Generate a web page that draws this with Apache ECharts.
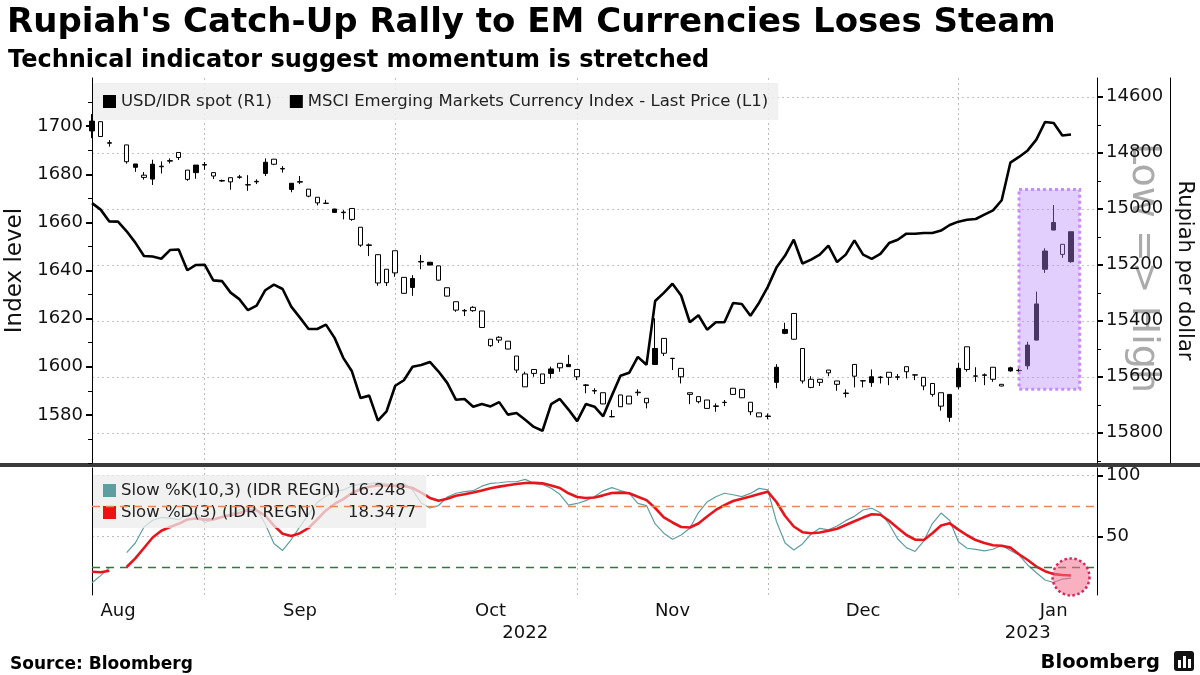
<!DOCTYPE html>
<html><head><meta charset="utf-8">
<script src="https://cdn.jsdelivr.net/npm/echarts@6/dist/echarts.min.js"></script>
<style>html,body{margin:0;padding:0;background:#fff}#c{width:1200px;height:675px}</style>
</head><body><div id="c"></div>
<script>
const dates = [
'2022-08-15','2022-08-16','2022-08-17','2022-08-18','2022-08-19','2022-08-22','2022-08-23','2022-08-24','2022-08-25','2022-08-26','2022-08-29','2022-08-30','2022-08-31',
'2022-09-01','2022-09-02','2022-09-05','2022-09-06','2022-09-07','2022-09-08','2022-09-09','2022-09-12','2022-09-13','2022-09-14','2022-09-15','2022-09-16','2022-09-19','2022-09-20','2022-09-21','2022-09-22','2022-09-23','2022-09-26','2022-09-27','2022-09-28','2022-09-29','2022-09-30',
'2022-10-03','2022-10-04','2022-10-05','2022-10-06','2022-10-07','2022-10-10','2022-10-11','2022-10-12','2022-10-13','2022-10-14','2022-10-17','2022-10-18','2022-10-19','2022-10-20','2022-10-21','2022-10-24','2022-10-25','2022-10-26','2022-10-27','2022-10-28','2022-10-31',
'2022-11-01','2022-11-02','2022-11-03','2022-11-04','2022-11-07','2022-11-08','2022-11-09','2022-11-10','2022-11-11','2022-11-14','2022-11-15','2022-11-16','2022-11-17','2022-11-18','2022-11-21','2022-11-22','2022-11-23','2022-11-24','2022-11-25','2022-11-28','2022-11-29','2022-11-30',
'2022-12-01','2022-12-02','2022-12-05','2022-12-06','2022-12-07','2022-12-08','2022-12-09','2022-12-12','2022-12-13','2022-12-14','2022-12-15','2022-12-16','2022-12-19','2022-12-20','2022-12-21','2022-12-22','2022-12-23','2022-12-26','2022-12-27','2022-12-28','2022-12-29','2022-12-30',
'2023-01-02','2023-01-03','2023-01-04','2023-01-05','2023-01-06','2023-01-09','2023-01-10','2023-01-11','2023-01-12','2023-01-13','2023-01-16','2023-01-17','2023-01-18','2023-01-19','2023-01-20','2023-01-23','2023-01-24'
];
// USD/IDR candles: [open, close, low, high]
const usdIdr = [
[14722,14687,14662,14748],[14689,14742,14689,14742],[14764,14766,14755,14778],null,[14772,14832,14772,14839],
[14852,14840,14840,14868],[14880,14888,14869,14896],[14894,14841,14825,14915],[14848,14850,14831,14874],[14828,14830,14820,14838],
[14799,14817,14799,14826],[14862,14895,14862,14900],[14871,14844,14844,14893],[14842,14844,14833,14861],[14871,14883,14871,14894],
[14899,14901,14896,14904],[14889,14904,14889,14932],[14886,14888,14879,14893],[14914,14915,14880,14936],[14902,14904,14895,14912],
[14874,14834,14820,14883],[14823,14841,14823,14844],[14856,14858,14848,14871],[14931,14909,14909,14941],[14903,14905,14883,14912],
[14930,14955,14930,14959],[14959,14979,14959,14988],[14980,14981,14968,14981],[15013,15001,15000,15014],[15012,15014,15005,15038],
[14999,15038,14999,15043],[15066,15130,15066,15136],[15129,15131,15124,15169],[15164,15265,15164,15275],[15216,15264,15216,15276],
[15150,15229,15150,15243],[15245,15302,15245,15303],[15281,15249,15237,15311],[15188,15190,15165,15216],[15201,15191,15190,15202],
[15204,15255,15204,15257],[15282,15312,15282,15313],[15332,15362,15332,15368],[15363,15365,15358,15383],[15352,15364,15348,15368],
[15365,15424,15365,15425],[15466,15489,15466,15493],[15459,15469,15455,15479],[15473,15501,15473,15502],[15526,15576,15526,15586],
[15590,15636,15582,15636],[15574,15588,15574,15600],[15590,15624,15590,15624],[15588,15572,15564,15606],[15552,15568,15552,15582],
[15564,15556,15522,15565],[15574,15600,15574,15612],[15629,15631,15626,15659],[15649,15651,15641,15662],[15657,15697,15657,15698],
[15742,15743,15719,15745],[15665,15707,15665,15708],[15669,15697,15669,15698],[15655,15657,15645,15668],[15677,15693,15677,15713],
[15556,15499,15391,15557],[15463,15516,15463,15526],[15534,15535,15533,15576],[15570,15600,15570,15624],[15657,15663,15657,15698],
[15671,15689,15671,15695],[15683,15713,15683,15714],[15704,15706,15695,15725],[15691,15692,15683,15705],[15641,15663,15641,15664],
[15645,15675,15645,15676],[15691,15725,15691,15737],[15729,15743,15729,15743],[15740,15742,15731,15752],[15620,15566,15555,15641],
[15445,15431,15407,15448],[15374,15466,15374,15467],[15499,15615,15499,15624],[15609,15638,15598,15641],[15609,15620,15609,15633],
[15576,15586,15576,15598],[15615,15627,15615,15650],[15658,15660,15645,15674],[15556,15598,15556,15638],[15614,15615,15613,15638],
[15621,15600,15574,15636],[15601,15603,15598,15624],[15584,15602,15584,15630],[15600,15602,15590,15612],[15564,15582,15564,15606],
[15593,15594,15592,15612],[15602,15633,15602,15648],[15624,15663,15624,15671],[15657,15705,15657,15721],[15745,15663,15663,15761],
[15636,15570,15550,15645],[15493,15574,15493,15582],[15597,15598,15566,15618],[15593,15595,15588,15630],[15566,15609,15566,15618],
[15627,15633,15627,15634],[15579,15568,15564,15582],[15577,15578,15570,15588],[15561,15487,15475,15574],[15469,15340,15296,15470],
[15216,15151,15141,15229],[15076,15049,14987,15077],[15127,15163,15127,15175],[15189,15082,15082,15193]
];
const msci = [
1668.0,1665.3,1660.4,1660.3,1656.3,1651.6,1646.0,1645.8,1644.9,1648.5,
1648.7,1640.1,1642.3,1642.4,1635.9,1635.6,1630.8,1628.1,1623.5,1625.4,
1631.8,1634.1,1632.3,1625.0,1620.4,1615.7,1615.7,1617.5,1612.0,1603.7,
1598.1,1587.0,1588.0,1577.6,1581.5,1592.1,1594.4,1600.0,1600.7,1602.0,
1598.0,1593.3,1586.3,1586.6,1583.4,1584.5,1583.5,1585.3,1580.1,1580.8,
1578.0,1575.0,1573.4,1584.5,1586.6,1582.2,1577.4,1584.5,1583.4,1579.4,
1588.0,1596.3,1597.5,1604.1,1600.8,1627.3,1630.7,1634.5,1629.6,1618.5,
1621.4,1615.4,1618.5,1618.5,1626.5,1626.1,1621.2,1626.6,1633.2,1641.2,
1646.2,1652.8,1642.9,1644.5,1646.6,1650.3,1643.5,1646.6,1652.5,1646.6,
1644.8,1646.9,1651.4,1652.8,1655.3,1655.3,1655.6,1655.6,1656.6,1658.9,
1660.3,1661.1,1661.4,1663.2,1665.0,1669.2,1684.8,1687.2,1689.9,1694.4,
1701.7,1701.3,1696.1,1696.5
];
const slowK = [
12.5,18.3,24.8,null,37.1,44.9,57.9,63.4,65.7,65.1,
63.9,68.5,68.9,61.6,63.6,66.5,68.7,71.8,74.2,72.6,
60.4,44.5,38.8,47.7,58.3,68.1,77.9,82.9,86.8,88.1,
91.3,93.0,93.0,94.2,93.0,92.1,93.4,88.1,77.5,73.4,
75.4,82.4,85.4,86.7,87.5,91.2,93.5,94.0,94.8,94.8,
96.7,93.5,92.6,89.5,84.6,75.8,77.1,79.4,82.8,87.4,
90.0,87.7,85.5,77.2,75.4,60.4,52.9,48.0,51.4,56.9,
69.7,78.3,82.6,85.4,84.2,82.7,85.3,89.4,88.1,62.4,
44.9,39.2,44.1,52.2,56.8,55.6,58.7,63.1,66.6,71.8,
73.2,69.5,60.4,48.1,41.1,38.0,46.5,60.7,69.3,63.2,
45.9,40.6,39.7,38.4,39.8,43.0,38.8,35.1,27.0,20.6,
14.7,12.7,15.5,16.248
];
const slowD = [
21.5,21.0,22.3,null,25.3,32.3,40.8,49.4,54.9,57.9,
60.5,64.0,64.9,63.9,64.1,66.1,67.5,69.3,71.8,71.4,
67.1,59.0,52.4,50.6,52.9,57.1,64.1,71.4,76.7,80.6,
85.6,88.7,90.7,91.7,91.7,91.3,91.3,89.7,86.0,81.6,
79.3,80.9,83.4,84.6,86.0,87.6,89.5,90.8,92.0,93.0,
93.8,93.9,93.5,91.7,89.7,85.4,82.4,81.6,82.0,83.7,
85.6,85.9,85.4,82.6,79.8,73.4,65.7,61.6,57.9,57.5,
60.8,66.5,71.8,75.8,79.1,81.0,82.8,84.8,86.7,78.3,
66.9,58.3,53.7,52.8,53.4,54.8,56.5,59.6,62.6,65.6,
68.3,67.9,63.0,57.1,51.4,47.6,47.3,52.8,59.1,60.9,
55.8,51.2,47.3,44.9,43.0,42.6,41.1,35.7,31.0,25.7,
21.9,19.5,18.8,18.3477
];
const seriesNames = ['USD/IDR spot (R1)', 'MSCI Emerging Markets Currency Index - Last Price (L1)', 'Slow %K(10,3) (IDR REGN)', 'Slow %D(3) (IDR REGN)'];
const lastValues = ['16.248', '18.3477'];
const monthStarts = ['2022-09-01','2022-10-03','2022-11-01','2022-12-01','2023-01-02'];
const monthLabelDates = ['2022-08-18','2022-09-16','2022-10-18','2022-11-16','2022-12-16','2023-01-17'];
const monthLabels = ['Aug','Sep','Oct','Nov','Dec','Jan'];
const yearLabelDates = ['2022-10-24','2023-01-12'];
const yearLabels = ['2022','2023'];
const leftTicks = [1580,1600,1620,1640,1660,1680,1700];
const leftMinor = [1560,1570,1590,1610,1630,1650,1670,1690,1710];
const rightTicks = [14600,14800,15000,15200,15400,15600,15800];
const rightMinor = [14700,14900,15100,15300,15500,15700,15900];
const stochTicks = [50,100];
const stochLevels = [75,25];
const highlightBox = {from: '2023-01-11', to: '2023-01-20', top: 14931, bottom: 15645};
const circleAt = {date: '2023-01-19', value: 17.2};

const FONT = 'DejaVu Sans';
const monthMap = {}; monthLabelDates.forEach((d,i)=>monthMap[d]=monthLabels[i]);
const yearMap = {}; yearLabelDates.forEach((d,i)=>yearMap[d]=yearLabels[i]);
const gridLine = {show:true, interval:(i,v)=>monthStarts.indexOf(v)>=0, lineStyle:{color:'#bdbdbd', type:[2,3], width:1}};
const axisTxt = {fontFamily:FONT, fontSize:18, color:'#111'};
const plain = (v)=>String(v);

const chart = echarts.init(document.getElementById('c'), null, {renderer:'canvas'});
chart.setOption({
  animation:false,
  backgroundColor:'#fff',
  textStyle:{fontFamily:FONT},
  title:[
    {text:"Rupiah's Catch-Up Rally to EM Currencies Loses Steam", left:2, top:1, textStyle:{fontFamily:FONT, fontSize:34, fontWeight:'bold', color:'#000'}},
    {text:'Technical indicator suggest momentum is stretched', left:3, top:44, textStyle:{fontFamily:FONT, fontSize:24, fontWeight:'bold', color:'#000'}},
    {text:'Source: Bloomberg', left:5, top:651, textStyle:{fontFamily:FONT, fontSize:17, fontWeight:'bold', color:'#000'}},
    {text:'Bloomberg', right:35, top:648, textStyle:{fontFamily:FONT, fontSize:19.5, fontWeight:'bold', color:'#000'}}
  ],
  grid:[
    {left:92, right:103, top:78, height:385, outerBoundsMode:'none', containLabel:false},
    {left:92, right:103, top:468, height:127, outerBoundsMode:'none', containLabel:false}
  ],
  legend:[
    {left:93, top:83, padding:[10,10,10,10], itemWidth:13, itemHeight:13, itemGap:18, selectedMode:false,
     backgroundColor:'rgba(238,238,238,0.85)',
     textStyle:{fontFamily:FONT, fontSize:16.5, color:'#222'},
     data:[{name:seriesNames[0], icon:'rect', itemStyle:{color:'#000', borderWidth:0}},
           {name:seriesNames[1], icon:'rect', itemStyle:{color:'#000', borderWidth:0}}]},
    {left:93, top:475, orient:'vertical', padding:[7,10,7,10], itemWidth:13, itemHeight:13, itemGap:5, selectedMode:false,
     backgroundColor:'rgba(236,236,236,0.75)',
     formatter:(name)=>'{n|'+name+'}{v|'+lastValues[name===seriesNames[2]?0:1]+'}',
     textStyle:{fontFamily:FONT, fontSize:16.5, color:'#222', rich:{n:{fontFamily:FONT, fontSize:16.5, color:'#222', width:227}, v:{fontFamily:FONT, fontSize:16.5, color:'#222'}}},
     data:[{name:seriesNames[2], icon:'rect', itemStyle:{color:'#5f9ea0', borderWidth:0}},
           {name:seriesNames[3], icon:'rect', itemStyle:{color:'#ee1111', borderWidth:0}}]}
  ],
  xAxis:[
    {gridIndex:0, type:'category', data:dates, boundaryGap:false, position:'bottom',
     axisLine:{show:false, onZero:false}, axisTick:{show:false}, axisLabel:{show:false}, splitLine:gridLine},
    {gridIndex:1, type:'category', data:dates, boundaryGap:false, position:'bottom',
     axisLine:{show:false, onZero:false}, axisTick:{show:false},
     axisLabel:Object.assign({interval:(i,v)=>monthMap[v]!==undefined, formatter:(v)=>monthMap[v]||'', margin:7}, axisTxt),
     splitLine:gridLine},
    {gridIndex:1, type:'category', data:dates, boundaryGap:false, position:'bottom',
     axisLine:{show:false, onZero:false}, axisTick:{show:false},
     axisLabel:Object.assign({interval:(i,v)=>yearMap[v]!==undefined, formatter:(v)=>yearMap[v]||'', margin:29}, axisTxt),
     splitLine:{show:false}}
  ],
  yAxis:[
    {gridIndex:0, type:'value', position:'left', min:1560, max:1720,
     axisLine:{show:true, lineStyle:{color:'#000', width:1}},
     axisTick:{show:true, customValues:leftTicks, length:6, lineStyle:{color:'#000', width:2}},
     axisLabel:Object.assign({customValues:leftTicks, margin:9, formatter:plain}, axisTxt),
     splitLine:{show:false},
     name:'Index level', nameLocation:'middle', nameRotate:90, nameGap:55,
     nameTextStyle:{fontFamily:FONT, fontSize:23, color:'#111'}},
    {gridIndex:0, type:'value', position:'right', inverse:true, min:14533, max:15908,
     axisLine:{show:true, lineStyle:{color:'#000', width:1}},
     axisTick:{show:true, customValues:rightTicks, length:6, lineStyle:{color:'#000', width:2}},
     axisLabel:Object.assign({customValues:rightTicks, margin:9, formatter:plain}, axisTxt),
     splitLine:{show:true, lineStyle:{color:'#c4c4c4', type:[2,3], width:1}},
     name:'Rupiah per dollar', nameLocation:'middle', nameRotate:-90, nameGap:76,
     nameTextStyle:{fontFamily:FONT, fontSize:21, color:'#111'}},
    {gridIndex:0, type:'value', position:'left', min:1560, max:1720,
     axisLine:{show:false}, axisTick:{show:true, customValues:leftMinor, length:4, lineStyle:{color:'#000'}},
     axisLabel:{show:false}, splitLine:{show:false}},
    {gridIndex:0, type:'value', position:'right', inverse:true, min:14533, max:15908,
     axisLine:{show:false}, axisTick:{show:true, customValues:rightMinor, length:4, lineStyle:{color:'#000'}},
     axisLabel:{show:false}, splitLine:{show:false}},
    {gridIndex:0, type:'value', position:'right', offset:73, min:0, max:1,
     axisLine:{show:true, lineStyle:{color:'#000', width:1}}, axisTick:{show:false}, axisLabel:{show:false}, splitLine:{show:false}},
    {gridIndex:1, type:'value', position:'left', min:2.5, max:106,
     axisLine:{show:true, lineStyle:{color:'#000', width:1}}, axisTick:{show:false}, axisLabel:{show:false}, splitLine:{show:false}},
    {gridIndex:1, type:'value', position:'right', min:2.5, max:106,
     axisLine:{show:true, lineStyle:{color:'#000', width:1}},
     axisTick:{show:true, customValues:stochTicks, length:6, lineStyle:{color:'#000', width:2}},
     axisLabel:Object.assign({customValues:stochTicks, margin:9, formatter:plain}, axisTxt),
     splitLine:{show:true, lineStyle:{color:'#bdbdbd', type:[2,3], width:1}}}
  ],
  series:[
    {type:'candlestick', name:seriesNames[0], xAxisIndex:0, yAxisIndex:1, barWidth:5, clip:false,
     data:usdIdr.map(d=>d?d:['-','-','-','-']),
     itemStyle:{color:'#ffffff', color0:'#000000', borderColor:'#000000', borderColor0:'#000000', borderWidth:1},
     markArea:{silent:true, z:10,
       itemStyle:{color:'rgba(185,135,250,0.40)', borderColor:'#c68cff', borderWidth:3, borderType:'dotted'},
       data:[[{xAxis:highlightBox.from, yAxis:highlightBox.top},{xAxis:highlightBox.to, yAxis:highlightBox.bottom}]]}},
    {type:'line', name:seriesNames[1], xAxisIndex:0, yAxisIndex:0, data:msci, symbol:'none', connectNulls:true,
     lineStyle:{color:'#000', width:2.6}, itemStyle:{color:'#000'}},
    {type:'line', name:seriesNames[2], xAxisIndex:1, yAxisIndex:6, data:slowK, symbol:'none',
     lineStyle:{color:'#5f9ea0', width:1.2}, itemStyle:{color:'#5f9ea0'}},
    {type:'line', name:seriesNames[3], xAxisIndex:1, yAxisIndex:6, data:slowD, symbol:'none',
     lineStyle:{color:'#e8141c', width:2.6}, itemStyle:{color:'#e8141c'},
     markLine:{silent:true, symbol:'none', label:{show:false},
       data:[{yAxis:stochLevels[0], lineStyle:{color:'#e8875c', type:[8,6], width:1.3}},
             {yAxis:stochLevels[1], lineStyle:{color:'#2c7a3f', type:[8,6], width:1.3}}]},
     markPoint:{silent:true, symbol:'circle', symbolSize:37, label:{show:false},
       itemStyle:{color:'rgba(244,112,140,0.55)', borderColor:'#d8255c', borderWidth:2.5, borderType:'dotted'},
       data:[{coord:[circleAt.date, circleAt.value]}]}}
  ],
  graphic:[
    {type:'rect', left:0, top:463, shape:{width:1200, height:4}, style:{fill:'#3a3a3a'}, silent:true},
    {type:'text', x:1143, y:268, rotation:-Math.PI/2, silent:true,
     style:{text:'Low => High', fill:'#ababab', font:'38px "DejaVu Sans"', align:'center', verticalAlign:'middle'}},
    {type:'group', left:1174, top:651, silent:true, children:[
      {type:'rect', shape:{x:0, y:0, width:20, height:20, r:3}, style:{fill:'#111'}},
      {type:'rect', shape:{x:4, y:9, width:3, height:8}, style:{fill:'#fff'}},
      {type:'rect', shape:{x:9, y:5, width:3, height:12}, style:{fill:'#fff'}},
      {type:'rect', shape:{x:14, y:8, width:3, height:9}, style:{fill:'#fff'}}
    ]}
  ]
});
</script></body></html>
